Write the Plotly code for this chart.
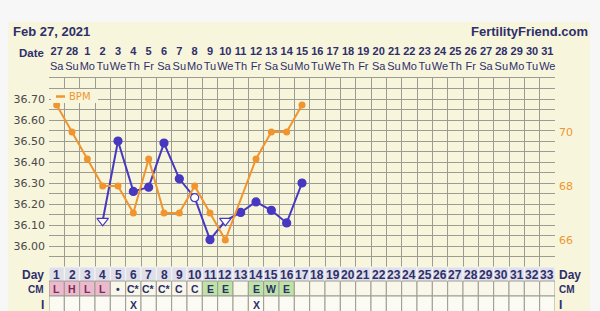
import plotly.graph_objects as go

W, H = 600, 311

# ---------------- data ----------------
days = [1, 2, 3, 4, 5, 6, 7, 8, 9, 10, 11, 12, 13, 14, 15, 16, 17, 18, 19, 20, 21, 22, 23,
        24, 25, 26, 27, 28, 29, 30, 31, 32, 33]
dates = ["27", "28", "1", "2", "3", "4", "5", "6", "7", "8", "9", "10", "11", "12", "13", "14",
         "15", "16", "17", "18", "19", "20", "21", "22", "23", "24", "25", "26", "27", "28", "29",
         "30", "31"]
weekdays = ["Sa", "Su", "Mo", "Tu", "We", "Th", "Fr", "Sa", "Su", "Mo", "Tu", "We", "Th", "Fr",
            "Sa", "Su", "Mo", "Tu", "We", "Th", "Fr", "Sa", "Su", "Mo", "Tu", "We", "Th", "Fr",
            "Sa", "Su", "Mo", "Tu", "We"]

temp_days = [4, 5, 6, 7, 8, 9, 10, 11, 12, 13, 14, 15, 16, 17]
temps = [36.12, 36.50, 36.26, 36.28, 36.49, 36.32, 36.23, 36.03, 36.12, 36.16, 36.21, 36.17,
         36.11, 36.30]
temp_symbols = ["triangle-down", "circle", "circle", "circle", "circle", "circle", "circle",
                "circle", "triangle-down", "circle", "circle", "circle", "circle", "circle"]
temp_open = [True, False, False, False, False, False, True, False, True, False, False, False,
             False, False]

bpm_days = [1, 2, 3, 4, 5, 6, 7, 8, 9, 10, 11, 12, 13, 14, 15, 16, 17]
bpm = [71, 70, 69, 68, 68, 67, 69, 67, 67, 68, 67, 66, None, 69, 70, 70, 71]

cm_codes = ["L", "H", "L", "L", "•", "C*", "C*", "C*", "C", "C", "E", "E", "", "E", "W", "E"]
cm_kind = ["pink", "pink", "pink", "pink", "", "", "", "", "", "", "green", "green", "",
           "green", "green", "green"]
i_marks = ["", "", "", "", "", "X", "", "", "", "", "", "", "", "X", "", ""]

temp_ticks = [36.0, 36.1, 36.2, 36.3, 36.4, 36.5, 36.6, 36.7]
bpm_ticks = [66, 68, 70]

# ---------------- styles ----------------
NAVY = "#2e2f6b"
PURPLE = "#4638c0"
ORANGE = "#f0952e"
BEIGE = "#f7f5dc"
GRID = "#9d9c93"
PINK = "#ebbacd"
GREEN = "#bde3a6"
DAYBG = "#dedfe9"
FONT = "DejaVu Sans"
NARROW = "Liberation Sans"


def py(y):
    return 1 - y / H


def px(x):
    return x / W


GRID_TOP, GRID_BOT = 78, 267
DAY_TOP, CM_TOP, I_TOP, I_BOT = 267, 281, 296, 311

fig = go.Figure()

fig.add_trace(go.Scatter(
    x=bpm_days, y=bpm, yaxis="y2", mode="lines+markers", name="BPM",
    connectgaps=True,
    line=dict(color=ORANGE, width=2),
    marker=dict(color=ORANGE, size=7, symbol="circle", opacity=1),
    showlegend=False,
))

fig.add_trace(go.Scatter(
    x=temp_days, y=temps, mode="lines+markers", name="Temp",
    line=dict(color=PURPLE, width=2),
    marker=dict(
        symbol=temp_symbols,
        size=[10 if s == "triangle-down" else 8 for s in temp_symbols],
        color=["white" if o else PURPLE for o in temp_open],
        line=dict(color=PURPLE, width=1.2),
        opacity=1,
    ),
    showlegend=False,
))

# top axis to carry date labels
fig.add_trace(go.Scatter(x=[1], y=[None], xaxis="x2", showlegend=False, hoverinfo="skip"))

shapes = []
annotations = []


def note(x, y, text, size, color=NAVY, xref="paper", xanchor="center", family=FONT):
    annotations.append(dict(x=x, y=y, xref=xref, yref="paper", xanchor=xanchor,
                            yanchor="middle", text=text, showarrow=False,
                            font=dict(family=family, size=size, color=color)))


# page panel
shapes.append(dict(type="rect", xref="paper", yref="paper", x0=px(8), x1=px(590), y0=0,
                   y1=py(22), fillcolor=BEIGE, line=dict(width=0), layer="below"))

# bottom rows
for k, d in enumerate(days):
    shapes.append(dict(type="rect", xref="x", yref="paper", x0=d - 0.5, x1=d + 0.5,
                       y0=py(CM_TOP), y1=py(DAY_TOP), fillcolor=DAYBG,
                       line=dict(color="#f4f4f4", width=1), layer="above"))
    kind = cm_kind[k] if k < len(cm_kind) else ""
    fill = PINK if kind == "pink" else GREEN if kind == "green" else "#f8f7ea"
    shapes.append(dict(type="rect", xref="x", yref="paper", x0=d - 0.5, x1=d + 0.5,
                       y0=py(I_TOP), y1=py(CM_TOP), fillcolor=fill,
                       line=dict(color=GRID, width=1), layer="above"))
    shapes.append(dict(type="rect", xref="x", yref="paper", x0=d - 0.5, x1=d + 0.5,
                       y0=py(I_BOT + 2), y1=py(I_TOP), fillcolor="#fbfbf3",
                       line=dict(color=GRID, width=1), layer="above"))
    note(d, py((DAY_TOP + CM_TOP) / 2 + 0.5), f"<b>{d}</b>", 12, xref="x", family=NARROW)
    if k < len(cm_codes) and cm_codes[k]:
        col = "#7b2d55" if kind == "pink" else NAVY
        note(d, py((CM_TOP + I_TOP) / 2 + 0.5), f"<b>{cm_codes[k]}</b>", 10.5, col, xref="x",
             family=NARROW)
    if k < len(i_marks) and i_marks[k]:
        note(d, py((I_TOP + I_BOT) / 2 + 1.5), f"<b>{i_marks[k]}</b>", 10.5, xref="x",
             family=NARROW)

# row labels
for lab, yc in [("Day", (DAY_TOP + CM_TOP) / 2 + 0.5), ("CM", (CM_TOP + I_TOP) / 2 + 0.5),
                ("I", (I_TOP + I_BOT) / 2 + 1.5)]:
    sz = 10 if lab == "CM" else 12
    note(px(46), py(yc), f"<b>{lab}</b>", sz, xanchor="right", family=NARROW)
    note(px(557), py(yc), f"<b>{lab}</b>", sz, xanchor="left", family=NARROW)

# header texts
note(px(11), py(32), "<b>Feb 27, 2021</b>", 13, xanchor="left", family=NARROW)
note(px(590), py(32), "<b>FertilityFriend.com</b>", 13, xanchor="right", family=NARROW)
note(px(46), py(53), "<b>Date</b>", 11.5, xanchor="right", family=NARROW)

# legend box
shapes.append(dict(type="rect", xref="paper", yref="paper", x0=px(51), x1=px(98), y0=py(103),
                   y1=py(89), fillcolor=BEIGE, line=dict(width=0), layer="above"))
shapes.append(dict(type="line", xref="paper", yref="paper", x0=px(56), x1=px(65), y0=py(96.5),
                   y1=py(96.5), line=dict(color=ORANGE, width=2.5), layer="above"))
note(px(67), py(96.5), "BPM", 10, ORANGE, xanchor="left")

fig.update_layout(
    width=W, height=H, margin=dict(l=0, r=0, t=0, b=0),
    paper_bgcolor="#f7f7f7", plot_bgcolor="#f9f7df",
    showlegend=False,
    xaxis=dict(domain=[px(49), px(555)], range=[0.5, 33.5], tick0=0.5, dtick=1,
               showticklabels=False, ticks="", showgrid=True, gridcolor=GRID, gridwidth=1,
               zeroline=False, showline=True, mirror=True, linecolor=GRID, linewidth=1,
               fixedrange=True),
    xaxis2=dict(overlaying="x", side="top", anchor="y", range=[0.5, 33.5],
                tickmode="array", tickvals=days, tickangle=0,
                ticktext=[f"<b>{a}</b><br>{b}" for a, b in zip(dates, weekdays)],
                tickfont=dict(family=NARROW, size=11, color=NAVY),
                ticks="", showgrid=False, zeroline=False, showline=False, ticklabelstandoff=5),
    yaxis=dict(domain=[py(GRID_BOT), py(GRID_TOP)], range=[35.9, 36.8],
               tickmode="array", tickvals=temp_ticks,
               ticktext=[f"{v:.2f}" for v in temp_ticks],
               tickfont=dict(family=FONT, size=11, color="#4a4a4a"),
               ticks="", showgrid=True, gridcolor=GRID, gridwidth=1, zeroline=False,
               minor=dict(tick0=35.9, dtick=0.05, showgrid=True, gridcolor=GRID, gridwidth=1),
               ticklabelstandoff=3),
    yaxis2=dict(overlaying="y", side="right", range=[65, 72], tickmode="array",
                tickvals=bpm_ticks, ticktext=[str(v) for v in bpm_ticks],
                tickfont=dict(family=FONT, size=11, color=ORANGE),
                ticks="", showgrid=False, zeroline=False, ticklabelstandoff=3),
    shapes=shapes,
    annotations=annotations,
)

fig.write_html("out.html")
